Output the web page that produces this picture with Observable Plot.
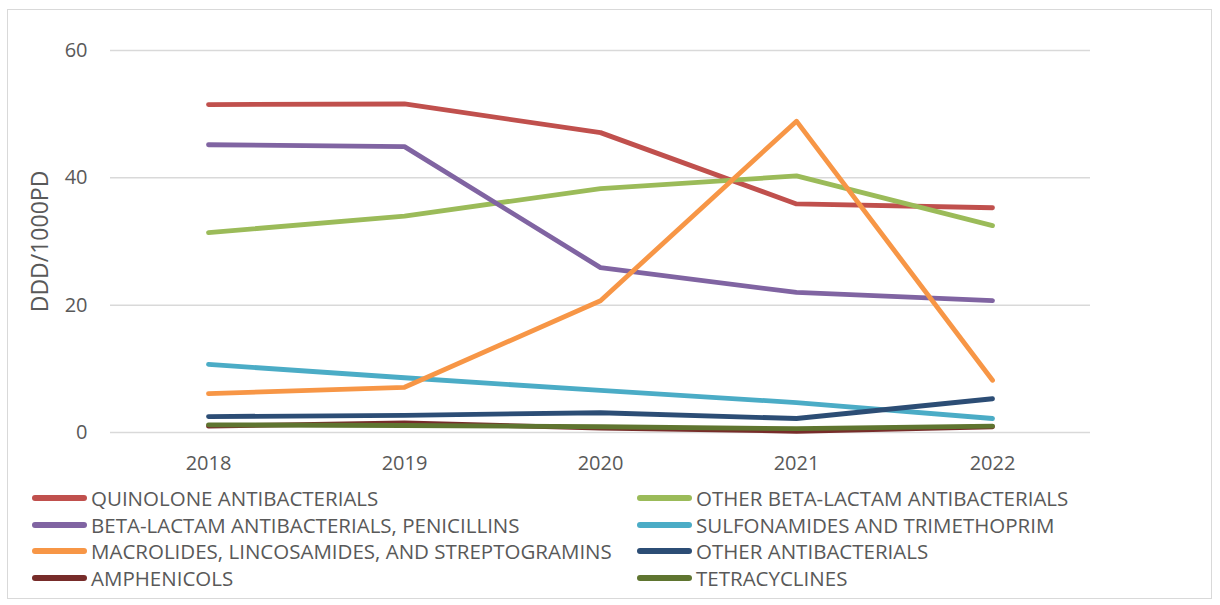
<!DOCTYPE html>
<html>
<head>
<meta charset="utf-8">
<script src="https://cdn.jsdelivr.net/npm/d3@7"></script>
<script src="https://cdn.jsdelivr.net/npm/@observablehq/plot@0.6"></script>
<style>
  body { margin: 0; background: #fff; font-family: "Open Sans", sans-serif; }
  #wrap { position: relative; width: 1220px; height: 605px; }
  #frame { position: absolute; left: 7px; top: 9px; width: 1205px; height: 590px; border: 1px solid #d9d9d9; box-sizing: border-box; }
  #chart { position: absolute; left: 0; top: 0; }
  #legend { position: absolute; left: 0; top: 0; width: 1220px; }
  .item { position: absolute; display: flex; align-items: center; height: 26px; font-size: 20.5px; color: #595959; white-space: nowrap; }
  .sw { width: 55px; height: 6px; border-radius: 3px; margin-right: 4px; }
</style>
</head>
<body>
<div id="wrap">
  <div id="frame"></div>
  <div id="chart"></div>
  <div id="legend"></div>
</div>
<script>
const years = ["2018", "2019", "2020", "2021", "2022"];
const seriesNames = [
  "QUINOLONE ANTIBACTERIALS",
  "OTHER BETA-LACTAM ANTIBACTERIALS",
  "BETA-LACTAM ANTIBACTERIALS, PENICILLINS",
  "SULFONAMIDES AND TRIMETHOPRIM",
  "MACROLIDES, LINCOSAMIDES, AND STREPTOGRAMINS",
  "OTHER ANTIBACTERIALS",
  "AMPHENICOLS",
  "TETRACYCLINES"
];
const quinolone     = [51.5, 51.6, 47.1, 35.9, 35.3];
const otherBeta     = [31.4, 34.0, 38.3, 40.3, 32.5];
const penicillins   = [45.2, 44.9, 25.9, 22.0, 20.7];
const sulfonamides  = [10.7, 8.6, 6.6, 4.7, 2.2];
const macrolides    = [6.1, 7.1, 20.7, 48.9, 8.2];
const otherAnti     = [2.5, 2.7, 3.1, 2.2, 5.3];
const amphenicols   = [1.0, 1.5, 0.7, 0.2, 0.9];
const tetracyclines = [1.2, 1.1, 0.9, 0.6, 1.0];
const yTicks = [0, 20, 40, 60];
const colors = ["#C0504D", "#9BBB59", "#8064A2", "#4BACC6", "#F79646", "#2C4D75", "#772C2A", "#5F7530"];

const allValues = [quinolone, otherBeta, penicillins, sulfonamides, macrolides, otherAnti, amphenicols, tetracyclines];
const data = [];
seriesNames.forEach((name, si) => {
  years.forEach((yr, i) => data.push({series: name, year: yr, value: allValues[si][i]}));
});

const chart = Plot.plot({
  width: 1220,
  height: 480,
  marginLeft: 110,
  marginRight: 130,
  marginTop: 50,
  marginBottom: 48,
  style: { fontFamily: "Open Sans, sans-serif", fontSize: "20px", color: "#595959", background: "transparent" },
  x: { type: "point", domain: years, padding: 0.5, label: null },
  y: { domain: [0, 60], label: null },
  color: { domain: seriesNames, range: colors },
  marks: [
    Plot.gridY(yTicks, { stroke: "#d9d9d9", strokeOpacity: 1, strokeWidth: 1.5 }),
    Plot.axisX({ tickSize: 0, tickPadding: 23, fill: "#595959", fontSize: 20 }),
    Plot.axisY(yTicks, { tickSize: 0, tickPadding: 23, fill: "#595959", fontSize: 20 }),
    Plot.lineY(data, { x: "year", y: "value", z: "series", stroke: "series", strokeWidth: 4.8, strokeLinecap: "round", strokeLinejoin: "round" }),
    Plot.text(["DDD/1000PD"], { frameAnchor: "left", textAnchor: "middle", dx: -70, rotate: -90, fill: "#595959", fontSize: 23 })
  ]
});
document.getElementById("chart").appendChild(chart);

const legend = document.getElementById("legend");
const rowCenters = [498, 524.5, 551, 578];
seriesNames.forEach((name, i) => {
  const col = i % 2, row = Math.floor(i / 2);
  const div = document.createElement("div");
  div.className = "item";
  div.style.left = (col === 0 ? 32 : 637) + "px";
  div.style.top = (rowCenters[row] - 13) + "px";
  const sw = document.createElement("span");
  sw.className = "sw";
  sw.style.background = colors[i];
  const t = document.createElement("span");
  t.textContent = name;
  div.appendChild(sw); div.appendChild(t);
  legend.appendChild(div);
});
</script>
</body>
</html>
